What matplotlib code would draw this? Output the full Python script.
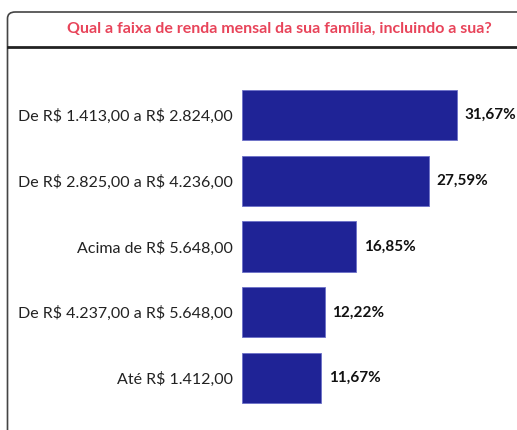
import matplotlib
matplotlib.use('Agg')
import matplotlib.pyplot as plt
from matplotlib.patches import FancyBboxPatch
from matplotlib.lines import Line2D

plt.rcParams['font.family'] = ['Lato', 'DejaVu Sans']
plt.rcParams['text.parse_math'] = False

# Data
categories = ['De R$ 1.413,00 a R$ 2.824,00',
              'De R$ 2.825,00 a R$ 4.236,00',
              'Acima de R$ 5.648,00',
              'De R$ 4.237,00 a R$ 5.648,00',
              'Até R$ 1.412,00']
values = [31.67, 27.59, 16.85, 12.22, 11.67]
value_labels = ['31,67%', '27,59%', '16,85%', '12,22%', '11,67%']
title = 'Qual a faixa de renda mensal da sua família, incluindo a sua?'

W, H = 517, 430
fig = plt.figure(figsize=(W / 100, H / 100), dpi=100)

# panel frame: rounded top-left corner, left edge and title separator
frame = FancyBboxPatch((7.5 / W, -0.2), 1.2, (H - 12) / H + 0.2,
                       boxstyle='round,pad=0,rounding_size=0.015',
                       transform=fig.transFigure, fill=False,
                       edgecolor='#444444', linewidth=1.2, zorder=0)
fig.patches.append(frame)
fig.lines.append(Line2D([7.5 / W, 1], [1 - 46.5 / H] * 2, transform=fig.transFigure,
                        color='#222222', linewidth=2))
fig.text(279 / W, 1 - 29 / H, title, ha='center', va='center',
         color='#E8445A', fontsize=11.5, fontweight='bold')

ax = fig.add_axes([242 / W, 1 - 411 / H, 271.6 / W, 329 / H])
ypos = list(range(len(categories)))
ax.barh(ypos, values, height=0.76, color='#1F2396', edgecolor='#6C70C8', linewidth=0.6)
ax.set_xlim(0, 40)
ax.set_ylim(len(categories) - 0.5, -0.5)
ax.set_yticks(ypos)
ax.set_yticklabels(categories, fontsize=11.5, color='#222222')
ax.tick_params(axis='y', length=0, pad=6.5)
ax.set_xticks([])
for s in ax.spines.values():
    s.set_visible(False)
for y, v, lab in zip(ypos, values, value_labels):
    ax.text(v + 1.1, y, lab, va='center', ha='left', fontsize=11,
            fontweight='bold', color='#111111')

fig.savefig('out.png', dpi=100)
